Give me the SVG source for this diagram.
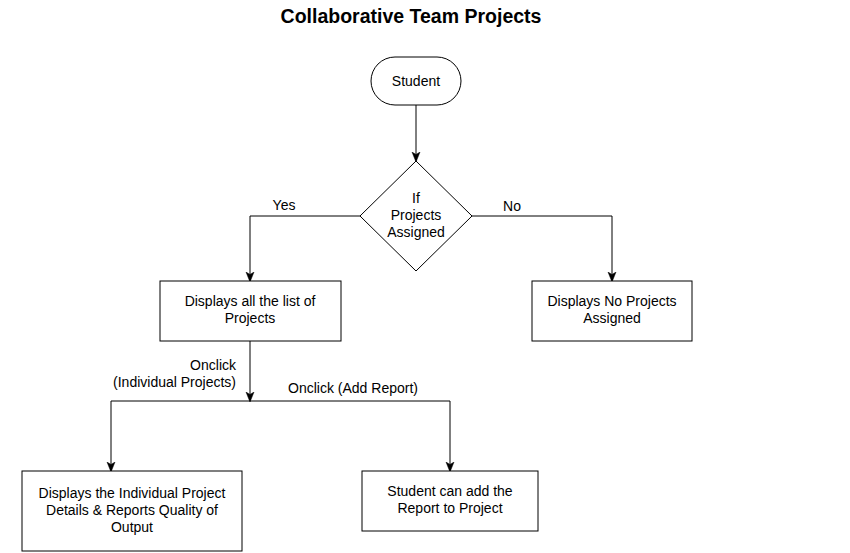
<svg xmlns="http://www.w3.org/2000/svg" width="850" height="553" viewBox="0 0 850 553">
<style>
.n{fill:#fff;stroke:#000;stroke-width:1}
.t{font-family:"Liberation Sans",Arial,sans-serif;font-size:14px;fill:#000;text-anchor:middle}
.c{fill:none;stroke:#000;stroke-width:1}
.title{font-family:"Liberation Sans",Arial,sans-serif;font-size:19.5px;font-weight:bold;fill:#000;text-anchor:middle}
</style>
<defs>
<marker id="ah" viewBox="0 0 10 10" refX="9" refY="5" markerWidth="10" markerHeight="10" markerUnits="userSpaceOnUse" orient="auto">
<path d="M0,1 L10,5 L0,9 L2.5,5 Z" fill="#000" stroke="#000" stroke-width="0.5"/>
</marker>
</defs>
<rect width="850" height="553" fill="#fff"/>
<text class="title" x="411" y="23">Collaborative Team Projects</text>
<g id="connectors">
<path class="c" d="M416,105 L416,161" marker-end="url(#ah)"/>
<path class="c" d="M360,216 L250,216 L250,281" marker-end="url(#ah)"/>
<path class="c" d="M472,216 L612,216 L612,281" marker-end="url(#ah)"/>
<path class="c" d="M250,341 L250,401" marker-end="url(#ah)"/>
<path class="c" d="M250,401 L111,401 L111,471" marker-end="url(#ah)"/>
<path class="c" d="M250,401 L450,401 L450,471" marker-end="url(#ah)"/>
<text class="t" x="284" y="210">Yes</text>
<text class="t" x="512" y="211">No</text>
<text class="t" x="236" y="370" style="text-anchor:end">Onclick</text>
<text class="t" x="236" y="387" style="text-anchor:end">(Individual Projects)</text>
<text class="t" x="353" y="393">Onclick (Add Report)</text>
</g>
<g id="student">
<rect class="n" x="371" y="57" width="90" height="48" rx="24" ry="24"/>
<text class="t" x="416" y="86">Student</text>
</g>
<g id="decision">
<path class="n" d="M416,161 L472,216 L416,271 L360,216 Z"/>
<text class="t" x="416" y="203">If</text>
<text class="t" x="416" y="220">Projects</text>
<text class="t" x="416" y="237">Assigned</text>
</g>
<g id="list">
<rect class="n" x="160" y="281" width="181" height="60"/>
<text class="t" x="250" y="306">Displays all the list of</text>
<text class="t" x="250" y="323">Projects</text>
</g>
<g id="noprojects">
<rect class="n" x="532" y="281" width="160" height="60"/>
<text class="t" x="612" y="306">Displays No Projects</text>
<text class="t" x="612" y="323">Assigned</text>
</g>
<g id="details">
<rect class="n" x="22" y="471" width="220" height="80"/>
<text class="t" x="132" y="498">Displays the Individual Project</text>
<text class="t" x="132" y="515">Details &amp; Reports Quality of</text>
<text class="t" x="132" y="532">Output</text>
</g>
<g id="addreport">
<rect class="n" x="362" y="471" width="176" height="60"/>
<text class="t" x="450" y="496">Student can add the</text>
<text class="t" x="450" y="513">Report to Project</text>
</g>
</svg>
